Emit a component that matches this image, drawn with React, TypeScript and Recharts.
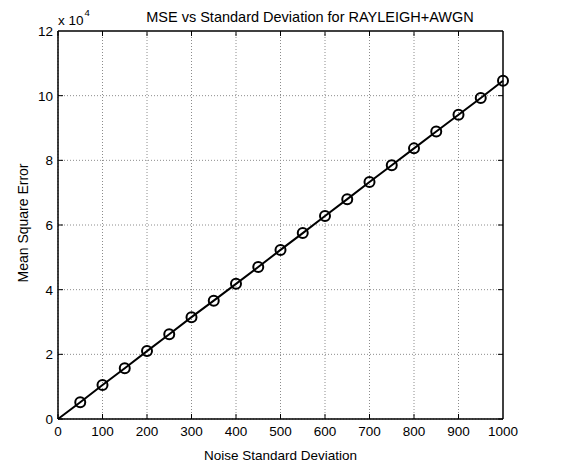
import React from "react";
import {
  LineChart,
  Line,
  XAxis,
  YAxis,
  CartesianGrid,
  Label,
} from "recharts";

// noise standard deviation (x) and the measured MSE (y)
const noiseStd = [0, 50, 100, 150, 200, 250, 300, 350, 400, 450, 500, 550, 600, 650, 700, 750, 800, 850, 900, 950, 1000];
const mseValues = [0, 5200, 10500, 15700, 21000, 26200, 31500, 36600, 41800, 47000, 52300, 57500, 62800, 68000, 73300, 78500, 83700, 88900, 94100, 99300, 104600];

const xTicks = [0, 100, 200, 300, 400, 500, 600, 700, 800, 900, 1000];
const yTicks = [0, 20000, 40000, 60000, 80000, 100000, 120000];

const data = noiseStd.map((sd, i) => ({ sd, mse: mseValues[i] }));

const FONT = "'Liberation Sans', Arial, Helvetica, sans-serif";
const TICK_LEN = 5;
const GRID = "#8c8c8c";

const BottomTick = (props: any) => {
  const { x, y, payload } = props;
  return (
    <text x={x} y={y + 17} textAnchor="middle" fontSize={13.5} fontFamily={FONT} fill="#000">
      {payload.value}
    </text>
  );
};

const LeftTick = (props: any) => {
  const { x, y, payload } = props;
  return (
    <text x={x - 5} y={y + 5} textAnchor="end" fontSize={13.5} fontFamily={FONT} fill="#000">
      {payload.value / 10000}
    </text>
  );
};

// grid line + inward tick marks on both ends; outermost line becomes the box edge
const hLine = (props: any) => {
  const { x1, x2, y1, index } = props;
  if (index === yTicks.length - 1) {
    return <line key={"h" + index} x1={x1} x2={x2} y1={y1} y2={y1} stroke="#000" strokeWidth={1.5} />;
  }
  return (
    <g key={"h" + index}>
      <line x1={x1} x2={x2} y1={y1} y2={y1} stroke={GRID} strokeDasharray="1 2" />
      <line x1={x1} x2={x1 + TICK_LEN} y1={y1} y2={y1} stroke="#000" />
      <line x1={x2 - TICK_LEN} x2={x2} y1={y1} y2={y1} stroke="#000" />
    </g>
  );
};

const vLine = (props: any) => {
  const { x1, y1, y2, index } = props;
  if (index === xTicks.length - 1) {
    return <line key={"v" + index} x1={x1} x2={x1} y1={y1} y2={y2} stroke="#000" strokeWidth={1.5} />;
  }
  const top = Math.min(y1, y2);
  const bottom = Math.max(y1, y2);
  return (
    <g key={"v" + index}>
      <line x1={x1} x2={x1} y1={y1} y2={y2} stroke={GRID} strokeDasharray="1 2" />
      <line x1={x1} x2={x1} y1={top} y2={top + TICK_LEN} stroke="#000" />
      <line x1={x1} x2={x1} y1={bottom - TICK_LEN} y2={bottom} stroke="#000" />
    </g>
  );
};

const renderDot = (props: any) => {
  const { cx, cy, payload, index } = props;
  if (payload.sd === 0) return <g key={"d" + index} />;
  return <circle key={"d" + index} cx={cx} cy={cy} r={5} stroke="#000" strokeWidth={2} fill="none" />;
};

export default function App() {
  return (
    <div style={{ position: "absolute", left: 0, top: 0, width: 585, height: 463, background: "#fff" }}>
      <LineChart
        width={585}
        height={463}
        data={data}
        margin={{ top: 31, right: 82, bottom: 0, left: 0 }}
      >
        <CartesianGrid
          horizontal={hLine}
          vertical={vLine}
          verticalValues={xTicks}
          horizontalValues={yTicks}
        />
        <XAxis
          dataKey="sd"
          type="number"
          domain={[0, 1000]}
          ticks={xTicks}
          height={44}
          tickSize={0}
          tickMargin={0}
          tick={<BottomTick />}
          axisLine={{ stroke: "#000", strokeWidth: 1.5 }}
          tickLine={false}
          interval={0}
        >
          <Label
            value="Noise Standard Deviation"
            position="insideBottom"
            offset={3}
            style={{ fontSize: 13.5, fontFamily: FONT, fill: "#000" }}
          />
        </XAxis>
        <YAxis
          type="number"
          domain={[0, 120000]}
          ticks={yTicks}
          width={58}
          tickSize={0}
          tickMargin={0}
          tick={<LeftTick />}
          axisLine={{ stroke: "#000", strokeWidth: 1.5 }}
          tickLine={false}
          interval={0}
        />
        <Line
          type="linear"
          dataKey="mse"
          stroke="#000"
          strokeWidth={2}
          dot={renderDot}
          activeDot={false}
          isAnimationActive={false}
        />
      </LineChart>
      <svg
        width={585}
        height={463}
        style={{ position: "absolute", left: 0, top: 0, pointerEvents: "none" }}
      >
        <text x={310} y={22} textAnchor="middle" fontSize={14.5} fontFamily={FONT} fill="#000">
          MSE vs Standard Deviation for RAYLEIGH+AWGN
        </text>
        <text x={58} y={25} fontSize={13.5} fontFamily={FONT} fill="#000">
          x 10
          <tspan dx={1} dy={-9} fontSize={9.5}>4</tspan>
        </text>
        <text
          x={0}
          y={0}
          transform="translate(28,223) rotate(-90)"
          textAnchor="middle"
          fontSize={14}
          fontFamily={FONT}
          fill="#000"
        >
          Mean Square Error
        </text>
      </svg>
    </div>
  );
}
